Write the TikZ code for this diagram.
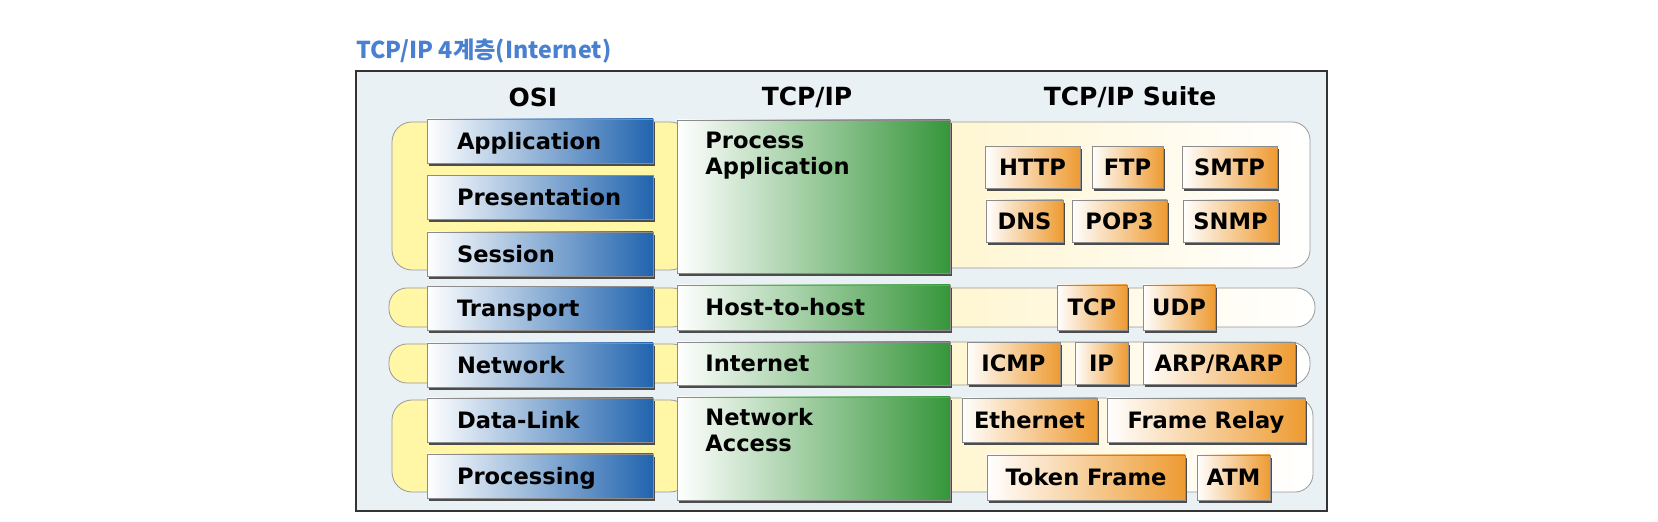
\documentclass[tikz,border=0pt]{standalone}
\usepackage{fontspec}
\usepackage{tikz}
\usetikzlibrary{shadows}
\newfontfamily\labelfont{DejaVu Sans}
\newfontfamily\kofont{Noto Sans CJK KR}
\definecolor{framebg}{HTML}{E9F1F5}
\definecolor{osiblue}{HTML}{2164AE}
\definecolor{osimid}{HTML}{84B6E0}
\definecolor{tcpgreen}{HTML}{36963A}
\definecolor{tcpmid}{HTML}{98CE92}
\definecolor{protoorange}{HTML}{EE9B32}
\definecolor{protomid}{HTML}{F8D6A4}
\definecolor{bandyellow}{HTML}{FFF6A6}
\definecolor{suitecream}{HTML}{FFF5CF}
\definecolor{titleblue}{HTML}{4A80D0}

\begin{document}
\begin{tikzpicture}[x=0.5pt, y=-0.5pt,
  boxshadow/.style={drop shadow={shadow xshift=1.2pt, shadow yshift=-1.4pt, fill=black!70, opacity=1}},
  lblfont/.style={font=\labelfont\bfseries\fontsize{11.3}{13}\selectfont},
  lbl/.style={lblfont, text height=8.2pt, text depth=0pt},
  head/.style={font=\labelfont\bfseries\fontsize{12.5}{15}\selectfont},
  band/.style={draw=black!40, fill=bandyellow, rounded corners=10pt},
  suite/.style={draw=black!40, left color=suitecream, right color=white, rounded corners=9pt},
  osibox/.style={lbl, boxshadow, draw=black!45, left color=white, middle color=osimid, right color=osiblue,
                 minimum width=113pt, minimum height=22pt, inner xsep=15pt, text width=83pt, align=left},
  tcpbox/.style={boxshadow, draw=black!45, left color=white, middle color=tcpmid, right color=tcpgreen, minimum width=136.5pt},
  tcptext/.style={lblfont, align=left, inner sep=0pt},
  proto/.style={lbl, boxshadow, draw=black!45, left color=white, middle color=protomid, right color=protoorange,
                inner sep=0pt, minimum height=21pt}]
  \useasboundingbox (0,0) rectangle (1658,522);
  \fill[white] (0,0) rectangle (1658,522);

  % frame and headings
  \node[draw=black!80, line width=0.9pt, fill=framebg, minimum width=485.5pt, minimum height=220pt] (frame) at (841.5,291) {};
  \node[anchor=base west, inner sep=0pt, text=titleblue, font=\kofont\bfseries\fontsize{11.6}{14}\selectfont] (title) at (356,59) {TCP/IP 4계층(Internet)};
  \node[head] (hosi) at (533,97) {OSI};
  \node[head] (htcp) at (807,97) {TCP/IP};
  \node[head] (hsuite) at (1130,97) {TCP/IP Suite};

  % yellow bands behind the OSI layers
  \node[band, minimum width=149pt, minimum height=74pt] (bandapp) at (541,196) {};
  \node[band, rounded corners=9pt, minimum width=150.5pt, minimum height=19.5pt] (bandtrans) at (539.5,307.5) {};
  \node[band, rounded corners=9pt, minimum width=150.5pt, minimum height=19.5pt] (bandnet) at (539.5,363.5) {};
  \node[band, minimum width=149pt, minimum height=46pt] (bandlink) at (541,446) {};

  % suite panels
  \node[suite, minimum width=190pt, minimum height=73pt] (suiteapp) at (1120,195) {};
  \node[suite, rounded corners=9.5pt, minimum width=192.5pt, minimum height=19.5pt] (suitetrans) at (1122.5,307.5) {};
  \node[suite, rounded corners=10pt, minimum width=190pt, minimum height=21.5pt] (suitenet) at (1120,363.5) {};
  \node[suite, minimum width=191.5pt, minimum height=47pt] (suitelink) at (1121.5,445) {};

  % OSI layers
  \node[osibox] (application) at (540,141) {Application};
  \node[osibox] (presentation) at (540,197.5) {Presentation};
  \node[osibox] (session) at (540,254) {Session};
  \node[osibox] (transport) at (540,308.5) {Transport};
  \node[osibox] (network) at (540,365) {Network};
  \node[osibox] (datalink) at (540,420) {Data-Link};
  \node[osibox] (processing) at (540,476) {Processing};

  % TCP/IP layers
  \node[tcpbox, minimum height=76.5pt] (procapp) at (813.5,196.5) {};
  \node[tcpbox, minimum height=22.5pt] (hosthost) at (813.5,307.5) {};
  \node[tcpbox, minimum height=21.5pt] (internet) at (813.5,363.5) {};
  \node[tcpbox, minimum height=51.5pt] (netaccess) at (813.5,448.5) {};
  \node[tcptext, anchor=north west] (procapptext) at (705,132) {Process\\Application};
  \node[lbl, inner sep=0pt, anchor=west] (hosthosttext) at (705,307.5) {Host-to-host};
  \node[lbl, inner sep=0pt, anchor=west] (internettext) at (705,363.5) {Internet};
  \node[tcptext, anchor=north west] (netaccesstext) at (705,408) {Network\\Access};

  % protocols
  \node[proto, minimum width=47.5pt] (http) at (1032.5,167.5) {HTTP};
  \node[proto, minimum width=35.5pt] (ftp) at (1127.5,167.5) {FTP};
  \node[proto, minimum width=47.5pt] (smtp) at (1229.5,167.5) {SMTP};
  \node[proto, minimum width=38.5pt] (dns) at (1024.5,221) {DNS};
  \node[proto, minimum width=47.5pt] (pop) at (1119.5,221) {POP3};
  \node[proto, minimum width=47.5pt] (snmp) at (1230.5,221) {SNMP};
  \node[proto, minimum width=35pt, minimum height=22.5pt] (tcp) at (1092,307.5) {TCP};
  \node[proto, minimum width=36pt, minimum height=22.5pt] (udp) at (1179,307.5) {UDP};
  \node[proto, minimum width=46.5pt] (icmp) at (1013.5,363.5) {ICMP};
  \node[proto, minimum width=26.5pt] (ip) at (1101.5,363.5) {IP};
  \node[proto, minimum width=76pt] (arp) at (1219,363.5) {ARP/RARP};
  \node[proto, minimum width=67.5pt, minimum height=22pt] (ethernet) at (1029.5,420) {Ethernet};
  \node[proto, minimum width=99pt, minimum height=22pt] (framerelay) at (1206,420) {Frame Relay};
  \node[proto, minimum width=99pt, minimum height=22.5pt] (tokenframe) at (1086,477.5) {Token Frame};
  \node[proto, minimum width=36.5pt, minimum height=22.5pt] (atm) at (1233.5,477.5) {ATM};
\end{tikzpicture}
\end{document}
